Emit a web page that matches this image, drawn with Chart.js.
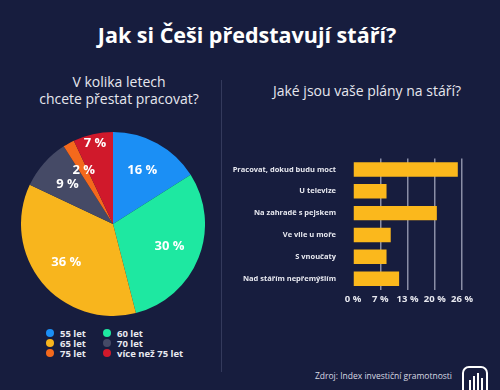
<!DOCTYPE html>
<html>
<head>
<meta charset="utf-8">
<script src="https://cdn.jsdelivr.net/npm/chart.js@4"></script>
<style>
  body { margin: 0; background: #171d3e; }
  #wrap { position: relative; width: 500px; height: 390px; background: #171d3e; overflow: hidden; font-family: "Open Sans", sans-serif; color: #fff; }
  .t { position: absolute; text-align: center; white-space: nowrap; }
  #title { left: 0; width: 494px; top: 20px; font-size: 21.5px; font-weight: 700; }
  #sub1 { left: 19px; width: 200px; top: 73px; font-size: 14px; line-height: 17px; font-weight: 400; color: #e6e7ee; }
  #sub2 { left: 240px; width: 254px; top: 81px; font-size: 14px; font-weight: 400; color: #e6e7ee; }
  #divider { position: absolute; left: 221px; top: 80px; width: 1px; height: 292px; background: #343a5c; }
  #pieBox { position: absolute; left: 21px; top: 132px; width: 184px; height: 184px; }
  #barBox { position: absolute; left: 228px; top: 145px; width: 268px; height: 164px; }
  #legend { position: absolute; left: 46px; top: 328px; width: 180px; display: grid; grid-template-columns: 57px 110px; row-gap: 0px; font-size: 9.5px; font-weight: 700; color: #e8e9f0; }
  #legend span.i { display: flex; align-items: center; height: 10px; }
  #legend span.d { display: inline-block; width: 8px; height: 8px; border-radius: 50%; margin-right: 6px; }
  #source { position: absolute; left: 300px; top: 370px; width: 152px; text-align: right; font-size: 8.5px; color: #d8d9e2; }
  #logo { position: absolute; left: 462px; top: 366px; }
</style>
</head>
<body>
<div id="wrap">
  <div class="t" id="title">Jak si Češi představují stáří?</div>
  <div class="t" id="sub1">V kolika letech<br>chcete přestat pracovat?</div>
  <div class="t" id="sub2">Jaké jsou vaše plány na stáří?</div>
  <div id="divider"></div>
  <div id="pieBox"><canvas id="pieChart"></canvas></div>
  <div id="legend"></div>
  <div id="barBox"><canvas id="barChart"></canvas></div>
  <div id="source">Zdroj: Index investiční gramotnosti</div>
  <svg id="logo" width="27" height="27" viewBox="0 0 27 27">
    <rect x="1" y="1" width="24" height="30" rx="6" fill="none" stroke="#ffffff" stroke-width="2"/>
    <rect x="7" y="14" width="2" height="12" fill="#ffffff"/>
    <rect x="11" y="10" width="2" height="16" fill="#ffffff"/>
    <rect x="15" y="7" width="2" height="19" fill="#ffffff"/>
    <rect x="19" y="12" width="2" height="14" fill="#ffffff"/>
  </svg>
</div>
<script>
// kolac - kdy prestat pracovat
var vekLabels = ["55 let", "60 let", "65 let", "70 let", "75 let", "více než 75 let"];
var vekValues = [16, 30, 36, 9, 2, 7];
var vekColors = ["#1b8ff5", "#1ee8a1", "#f8b51d", "#454a66", "#f4691c", "#d0192b"];

// sloupce - plany na stari
var planLabels = ["Pracovat, dokud budu moct", "U televize", "Na zahradě s pejskem", "Ve vile u moře", "S vnoučaty", "Nad stářím nepřemýšlím"];
var planValues = [25, 8, 20, 9, 8, 11];
var planTicks = [0, 6.5, 13, 19.5, 26];

// legenda
var legend = document.getElementById("legend");
vekLabels.forEach(function (l, i) {
  var s = document.createElement("span");
  s.className = "i";
  s.innerHTML = '<span class="d" style="background:' + vekColors[i] + '"></span>' + l;
  legend.appendChild(s);
});

// popisky procent v kolaci
const pieLabels = {
  id: "pieLabels",
  afterDatasetsDraw(chart) {
    const ctx = chart.ctx;
    const meta = chart.getDatasetMeta(0);
    ctx.save();
    ctx.font = "700 13px 'Open Sans'";
    ctx.fillStyle = "#ffffff";
    ctx.textAlign = "center";
    ctx.textBaseline = "middle";
    meta.data.forEach(function (arc, i) {
      const mid = (arc.startAngle + arc.endAngle) / 2;
      const k = i === meta.data.length - 1 ? 0.9 : 0.66;
      const x = arc.x + Math.cos(mid) * arc.outerRadius * k;
      const y = arc.y + Math.sin(mid) * arc.outerRadius * k;
      ctx.fillText(vekValues[i] + " %", x, y);
    });
    ctx.restore();
  }
};

new Chart(document.getElementById("pieChart"), {
  type: "pie",
  data: {
    labels: vekLabels,
    datasets: [{ data: vekValues, backgroundColor: vekColors, borderWidth: 0 }]
  },
  options: {
    responsive: true,
    maintainAspectRatio: false,
    animation: false,
    plugins: { legend: { display: false }, tooltip: { enabled: false } }
  },
  plugins: [pieLabels]
});

new Chart(document.getElementById("barChart"), {
  type: "bar",
  data: {
    labels: planLabels,
    datasets: [{ data: planValues, backgroundColor: "#fbb81c", borderWidth: 0, barPercentage: 0.66, categoryPercentage: 1 }]
  },
  options: {
    indexAxis: "y",
    responsive: true,
    maintainAspectRatio: false,
    animation: false,
    layout: { padding: { top: 4, right: 34 } },
    plugins: { legend: { display: false }, tooltip: { enabled: false } },
    scales: {
      x: {
        min: 0,
        max: 26,
        afterBuildTicks: function (axis) {
          axis.ticks = planTicks.map(function (v) { return { value: v }; });
        },
        ticks: {
          color: "#e8e9f0",
          font: { family: "Open Sans", size: 9.5, weight: "700" },
          padding: 4,
          maxRotation: 0,
          minRotation: 0,
          autoSkip: false,
          callback: function (v) { return Math.round(v) + " %"; }
        },
        grid: {
          color: function (c) { return c.tick && c.tick.value === 0 ? "rgba(0,0,0,0)" : "#8a8ea6"; },
          lineWidth: 1.5,
          drawTicks: false
        },
        border: { display: false }
      },
      y: {
        afterFit: function (axis) { axis.width = 125; },
        ticks: {
          color: "#e8e9f0",
          font: { family: "Open Sans", size: 7.5, weight: "700" },
          padding: 9
        },
        grid: { display: false },
        border: { display: false }
      }
    }
  }
});
</script>
</body>
</html>
